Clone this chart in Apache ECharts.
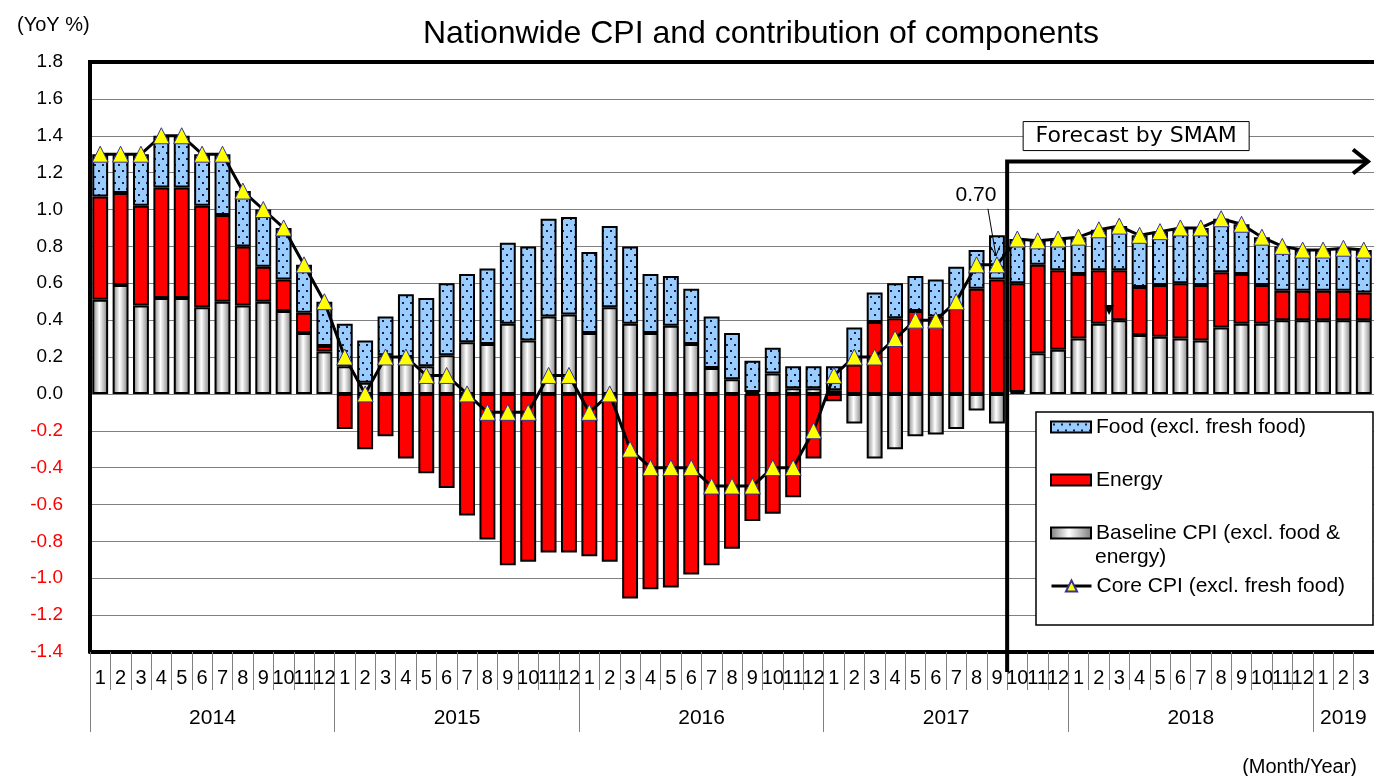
<!DOCTYPE html>
<html>
<head>
<meta charset="utf-8">
<script src="https://cdn.jsdelivr.net/npm/echarts@6/dist/echarts.min.js"></script>
<style>
html, body { margin: 0; padding: 0; background: #fff; }
#main { width: 1374px; height: 776px; }
</style>
</head>
<body>
<div id="main"></div>
<script>
var FONT = 'Liberation Sans, Arial, sans-serif';

// months Jan 2014 .. Mar 2019
var monthLabels = [
  '1','2','3','4','5','6','7','8','9','10','11','12',
  '1','2','3','4','5','6','7','8','9','10','11','12',
  '1','2','3','4','5','6','7','8','9','10','11','12',
  '1','2','3','4','5','6','7','8','9','10','11','12',
  '1','2','3','4','5','6','7','8','9','10','11','12',
  '1','2','3'
];
var yearLabels = ['2014', '2015', '2016', '2017', '2018', '2019'];
var yearStartIndex = [0, 12, 24, 36, 48, 60];
var yearLabelIndex = [6, 18, 30, 42, 54, 61];
var forecastStart = 45; // Oct 2017

var baseline = [
  0.51, 0.59, 0.48, 0.52, 0.52, 0.47, 0.50, 0.48, 0.50, 0.45, 0.33, 0.23,
  0.15, 0.06, 0.21, 0.20, 0.15, 0.21, 0.28, 0.27, 0.38, 0.29, 0.42, 0.43,
  0.33, 0.47, 0.38, 0.33, 0.37, 0.27, 0.14, 0.08, 0.01, 0.11, 0.03, 0.03,
  0.02, -0.16, -0.35, -0.30, -0.23, -0.22, -0.19, -0.09, -0.16, 0.01, 0.22, 0.24,
  0.30, 0.38, 0.40, 0.32, 0.31, 0.30, 0.29, 0.36, 0.38, 0.38, 0.40, 0.40,
  0.40, 0.40, 0.40
];
var energy = [
  0.56, 0.50, 0.54, 0.60, 0.60, 0.55, 0.47, 0.32, 0.19, 0.17, 0.11, 0.03,
  -0.19, -0.30, -0.23, -0.35, -0.43, -0.51, -0.66, -0.79, -0.93, -0.91, -0.86, -0.86,
  -0.88, -0.91, -1.11, -1.06, -1.05, -0.98, -0.93, -0.84, -0.69, -0.65, -0.56, -0.35,
  -0.04, 0.16, 0.39, 0.41, 0.45, 0.42, 0.47, 0.57, 0.62, 0.59, 0.48, 0.43,
  0.35, 0.29, 0.27, 0.26, 0.28, 0.30, 0.30, 0.30, 0.27, 0.21, 0.16, 0.16,
  0.16, 0.16, 0.15
];
var food = [
  0.23, 0.21, 0.28, 0.28, 0.28, 0.28, 0.33, 0.30, 0.31, 0.28, 0.26, 0.24,
  0.23, 0.23, 0.21, 0.34, 0.37, 0.39, 0.37, 0.41, 0.44, 0.51, 0.53, 0.53,
  0.44, 0.44, 0.42, 0.32, 0.27, 0.30, 0.28, 0.25, 0.17, 0.14, 0.12, 0.12,
  0.13, 0.20, 0.16, 0.19, 0.19, 0.20, 0.22, 0.21, 0.24, 0.24, 0.13, 0.17,
  0.20, 0.22, 0.24, 0.28, 0.29, 0.30, 0.31, 0.29, 0.27, 0.26, 0.24, 0.22,
  0.22, 0.23, 0.23
];
var core = [
  1.3, 1.3, 1.3, 1.4, 1.4, 1.3, 1.3, 1.1, 1.0, 0.9, 0.7, 0.5,
  0.2, 0.0, 0.2, 0.2, 0.1, 0.1, 0.0, -0.1, -0.1, -0.1, 0.1, 0.1,
  -0.1, 0.0, -0.3, -0.4, -0.4, -0.4, -0.5, -0.5, -0.5, -0.4, -0.4, -0.2,
  0.1, 0.2, 0.2, 0.3, 0.4, 0.4, 0.5, 0.7, 0.7, 0.84, 0.83, 0.84,
  0.85, 0.89, 0.91, 0.86, 0.88, 0.90, 0.90, 0.95, 0.92, 0.85, 0.80, 0.78,
  0.78, 0.79, 0.78
];

var names = ['Food (excl. fresh food)', 'Energy', 'Baseline CPI (excl. food &', 'Core CPI (excl. fresh food)'];

// dotted light-blue fill for the food bars
function dotPattern() {
  var c = document.createElement('canvas');
  c.width = 8; c.height = 12;
  var g = c.getContext('2d');
  g.fillStyle = '#99CCFF';
  g.fillRect(0, 0, 8, 12);
  g.fillStyle = '#1c1c40';
  g.fillRect(2, 2, 2, 2);
  g.fillRect(6, 8, 2, 2);
  return c;
}

function legendAt(name, top, h) {
  return {
    data: [name], left: 1050, top: top, padding: 0, icon: 'rect',
    itemWidth: 40, itemHeight: h, selectedMode: false, z: 30,
    textStyle: { fontSize: 21, fontFamily: FONT, color: '#000', lineHeight: 22 }
  };
}
var coreLegend = legendAt(names[3], 575, 14);
coreLegend.icon = null;
coreLegend.lineStyle = { width: 3, color: '#000' };

var chart = echarts.init(document.getElementById('main'));

var option = {
  animation: false,
  textStyle: { fontFamily: FONT },
  title: [
    { text: 'Nationwide CPI and contribution of components', left: 418, top: 13,
      textStyle: { fontSize: 32, fontWeight: 'normal', color: '#000', fontFamily: FONT } },
    { text: '(YoY %)', left: 12, top: 10,
      textStyle: { fontSize: 20, fontWeight: 'normal', color: '#000', fontFamily: FONT } },
    { text: '(Month/Year)', right: 12, top: 752,
      textStyle: { fontSize: 20, fontWeight: 'normal', color: '#000', fontFamily: FONT } }
  ],
  legend: [
    legendAt(names[0], 416, 11),
    legendAt(names[1], 469, 11),
    legendAt(names[2], 522, 11),
    coreLegend
  ],
  grid: { left: 90, right: 0, top: 62, bottom: 124 },
  xAxis: [
    {
      type: 'category', data: monthLabels, position: 'bottom',
      axisLine: { show: true, onZero: false, lineStyle: { color: '#000', width: 4 } },
      axisTick: { show: true, interval: 0, length: 38, lineStyle: { color: '#808080', width: 1 } },
      axisLabel: { interval: 0, margin: 16, fontSize: 20, color: '#000', fontFamily: FONT }
    },
    {
      type: 'category', data: monthLabels, position: 'bottom', offset: 0,
      axisLine: { show: false, onZero: false },
      axisTick: {
        show: true, length: 80, lineStyle: { color: '#808080', width: 1 },
        interval: function (idx) { return yearStartIndex.indexOf(idx) >= 0; }
      },
      axisLabel: {
        margin: 56, color: '#000', fontFamily: FONT,
        interval: function (idx) { return yearLabelIndex.indexOf(idx) >= 0; },
        formatter: function (v, idx) {
          var k = yearLabelIndex.indexOf(idx);
          if (k < 0) return '';
          return (k < 5 ? '{s|' : '{e|') + yearLabels[k] + '}';
        },
        rich: {
          s: { fontSize: 21, fontFamily: FONT, color: '#000', padding: [0, 20, 0, 0] },
          e: { fontSize: 21, fontFamily: FONT, color: '#000' }
        }
      }
    }
  ],
  yAxis: {
    type: 'value', min: -1.4, max: 1.8, interval: 0.2,
    axisLine: { show: true, onZero: false, lineStyle: { color: '#000', width: 4 } },
    axisTick: { show: false },
    splitLine: { lineStyle: { color: '#808080', width: 1 } },
    axisLabel: {
      margin: 27, fontSize: 19, fontFamily: FONT,
      formatter: function (v) { return (+v).toFixed(1); },
      color: function (v) { return parseFloat(v) < -1e-9 ? '#FF0000' : '#000'; }
    }
  },
  series: [
    {
      name: names[2], type: 'bar', stack: 'cpi', data: baseline, barCategoryGap: '22%',
      itemStyle: {
        color: new echarts.graphic.LinearGradient(0, 0, 1, 0, [
          { offset: 0, color: '#7a7a7a' },
          { offset: 0.45, color: '#ffffff' },
          { offset: 1, color: '#7a7a7a' }
        ]),
        borderColor: '#000', borderWidth: 2
      }
    },
    {
      name: names[1], type: 'bar', stack: 'cpi', data: energy,
      itemStyle: { color: '#FF0000', borderColor: '#000', borderWidth: 2 }
    },
    {
      name: names[0], type: 'bar', stack: 'cpi', data: food,
      itemStyle: { color: { image: dotPattern(), repeat: 'repeat' }, borderColor: '#000', borderWidth: 2 }
    },
    {
      name: names[3], type: 'line', data: core, z: 5,
      symbol: 'triangle', symbolSize: 16,
      lineStyle: { color: '#000', width: 3 },
      itemStyle: { color: '#FFFF00', borderColor: '#333399', borderWidth: 1 }
    }
  ]
};
chart.setOption(option);

// annotations placed from the axis scales
var x0 = chart.convertToPixel({ xAxisIndex: 0 }, 0);
var band = chart.convertToPixel({ xAxisIndex: 0 }, 1) - x0;
var xLeft = x0 - band / 2;
var xb = chart.convertToPixel({ xAxisIndex: 0 }, forecastStart) - band / 2;
var yTop = chart.convertToPixel({ yAxisIndex: 0 }, 1.8);
var yArrow = chart.convertToPixel({ yAxisIndex: 0 }, 1.26);
var yBottom = chart.convertToPixel({ yAxisIndex: 0 }, -1.4);
var p = chart.convertToPixel({ seriesIndex: 3 }, [forecastStart - 1, core[forecastStart - 1]]);
var xs = chart.convertToPixel({ xAxisIndex: 0 }, 50) - band / 2;
var ys = chart.convertToPixel({ yAxisIndex: 0 }, 0.45);

chart.setOption({
  graphic: [
    { type: 'line', z: 20,
      shape: { x1: xLeft - 2, y1: yTop, x2: 1374, y2: yTop },
      style: { stroke: '#000', lineWidth: 4 } },
    { type: 'polyline', z: 20,
      shape: { points: [[xb, yBottom + 20], [xb, yArrow], [1368, yArrow]] },
      style: { stroke: '#000', lineWidth: 4, fill: null, lineJoin: 'miter' } },
    { type: 'polyline', z: 20,
      shape: { points: [[1353, yArrow - 12], [1368, yArrow], [1353, yArrow + 12]] },
      style: { stroke: '#000', lineWidth: 4, fill: null } },
    { type: 'rect', z: 20,
      shape: { x: xb + 16, y: yArrow - 40, width: 226, height: 29 },
      style: { fill: '#fff', stroke: '#000', lineWidth: 1 } },
    { type: 'text', z: 21, x: xb + 129, y: yArrow - 25,
      style: { text: 'Forecast by SMAM', fontSize: 22, fontFamily: 'DejaVu Sans', fill: '#000', align: 'center', verticalAlign: 'middle' } },
    { type: 'text', z: 21, x: p[0] - 21, y: p[1] - 70,
      style: { text: '0.70', fontSize: 21, fontFamily: FONT, fill: '#000', align: 'center', verticalAlign: 'middle' } },
    { type: 'line', z: 21,
      shape: { x1: p[0] - 9, y1: p[1] - 56, x2: p[0] - 1, y2: p[1] - 9 },
      style: { stroke: '#000', lineWidth: 1 } },
    { type: 'polyline', z: 21,
      shape: { points: [[p[0] - 6, p[1] - 18], [p[0] - 1, p[1] - 9], [p[0] + 3, p[1] - 19]] },
      style: { stroke: '#000', lineWidth: 1, fill: null } },
    { type: 'polygon', z: 21,
      shape: { points: [[xs - 5, ys - 6], [xs + 5, ys - 6], [xs, ys + 4]] },
      style: { fill: '#000' } },
    { type: 'rect', z: 25,
      shape: { x: 1036, y: 412, width: 337, height: 213 },
      style: { fill: '#fff', stroke: '#000', lineWidth: 1.5 } },
    { type: 'text', z: 31, x: 1095, y: 557,
      style: { text: 'energy)', fontSize: 21, fontFamily: FONT, fill: '#000', verticalAlign: 'middle' } }
  ]
});
</script>
</body>
</html>
